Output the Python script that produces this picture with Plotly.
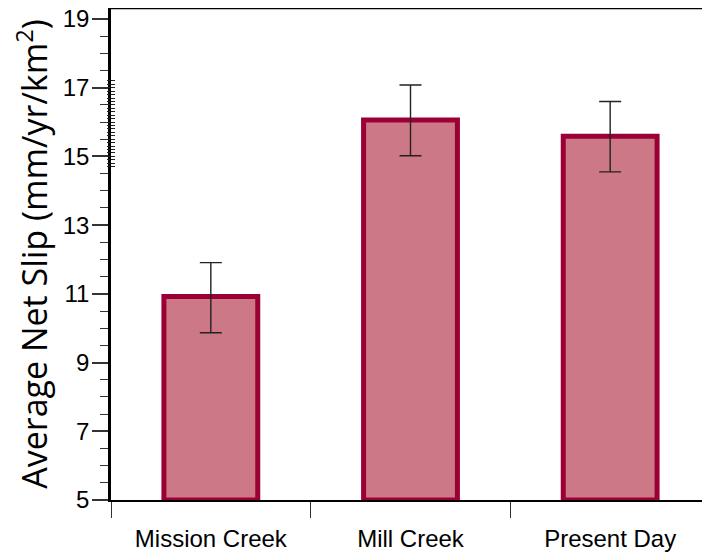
import plotly.graph_objects as go

categories = ["Mission Creek", "Mill Creek", "Present Day"]
values = [10.92, 16.06, 15.59]
err_plus = [0.99, 1.02, 1.01]
err_minus = [1.05, 1.04, 1.04]
y_base = 5
y_title = "Average Net Slip (mm/yr/km<sup>2</sup>)"
major_ticks = [5, 7, 9, 11, 13, 15, 17, 19]
dense_ticks = [round(14.7 + 0.1 * i, 2) for i in range(26)]

fill_color = "#cd7886"
edge_color = "#9b0035"

fig = go.Figure()
fig.add_trace(go.Bar(
    x=categories,
    y=[v - y_base for v in values],
    base=y_base,
    width=0.47,
    marker=dict(color=fill_color, line=dict(color=edge_color, width=5)),
    error_y=dict(type="data", symmetric=False, array=err_plus, arrayminus=err_minus,
                 color="#222222", thickness=1.4, width=11),
    showlegend=False,
))

yr = [5, 19.32]
fig.update_layout(
    width=702, height=549,
    margin=dict(l=103, r=0, t=0, b=57),
    plot_bgcolor="white", paper_bgcolor="white",
    xaxis=dict(
        range=[-0.5, 2.5], showgrid=False, showline=True, linecolor="black", linewidth=1.5,
        ticks="outside", tickson="boundaries", ticklen=16, tickwidth=1, tickcolor="#333333",
        tickfont=dict(family="Liberation Sans, Arial", size=24, color="black"),
        ticklabelstandoff=16, automargin=False,
    ),
    yaxis=dict(
        range=yr, showgrid=False, zeroline=False, showline=True, linecolor="black", linewidth=2.5,
        tickvals=major_ticks, ticks="outside", ticklen=16, tickwidth=1.5, tickcolor="#333333",
        minor=dict(dtick=0.5, tick0=5, ticks="outside", ticklen=8, tickwidth=1, tickcolor="#333333"),
        tickfont=dict(family="Liberation Sans, Arial", size=24, color="black"),
        ticklabelstandoff=-2, ticklabeloverflow="allow", automargin=False,
        title=dict(text=y_title, font=dict(family="Open Sans", size=34, color="black"), standoff=19),
    ),
    yaxis2=dict(
        overlaying="y", range=yr, showgrid=False, zeroline=False, showline=False,
        tickvals=dense_ticks, showticklabels=False, ticks="outside", ticklen=3, tickwidth=1,
        tickcolor="#222222", automargin=False,
    ),
    yaxis3=dict(
        overlaying="y", range=yr, showgrid=False, zeroline=False, showline=False,
        tickvals=dense_ticks, showticklabels=False, ticks="inside", ticklen=4, tickwidth=1,
        tickcolor="#222222", automargin=False,
    ),
    shapes=[dict(type="line", xref="paper", yref="paper", x0=0, x1=1, y0=1, y1=1,
                 line=dict(color="black", width=2.5))],
)
# invisible traces to activate the overlay axes
fig.add_trace(go.Scatter(x=[categories[0]], y=[y_base], yaxis="y2", mode="markers",
                         marker=dict(opacity=0), showlegend=False, hoverinfo="skip"))
fig.add_trace(go.Scatter(x=[categories[0]], y=[y_base], yaxis="y3", mode="markers",
                         marker=dict(opacity=0), showlegend=False, hoverinfo="skip"))

fig.write_html("out.html")
